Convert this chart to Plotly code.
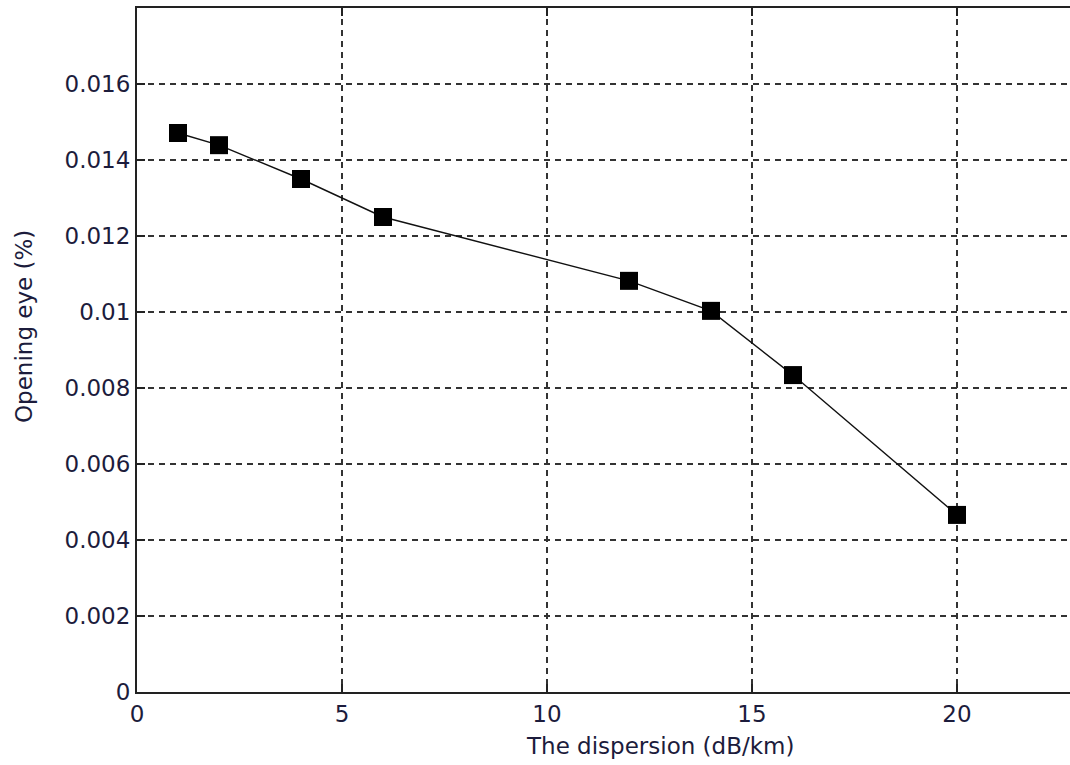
import plotly.graph_objects as go

dispersion = [1, 2, 4, 6, 12, 14, 16, 20]
opening_eye = [0.01471, 0.01439, 0.01350, 0.01250, 0.01082, 0.01003, 0.00834, 0.00466]

x_ticks = [0, 5, 10, 15, 20]
x_tick_labels = ["0", "5", "10", "15", "20"]
y_ticks = [0, 0.002, 0.004, 0.006, 0.008, 0.010, 0.012, 0.014, 0.016]
y_tick_labels = ["0", "0.002", "0.004", "0.006", "0.008", "0.01", "0.012", "0.014", "0.016"]

x_title = "The dispersion (dB/km)"
y_title = "Opening eye (%)"

fig = go.Figure()
fig.add_trace(go.Scatter(
    x=dispersion, y=opening_eye, mode="lines+markers",
    line=dict(color="#111111", width=1.4),
    marker=dict(symbol="square", size=18, color="#000000",
                line=dict(color="#000000", width=0)),
    showlegend=False,
))

font_family = "DejaVu Sans, Liberation Sans, Arial, sans-serif"
txt_color = "#1c1c3c"
fsize = 23

fig_w, fig_h = 1070, 765
m_l, m_t, m_b = 137, 8, 73
plot_w = fig_w - m_l
plot_h = fig_h - m_t - m_b
x_max = plot_w / 41.0

fig.update_layout(
    width=fig_w, height=fig_h,
    margin=dict(l=m_l, r=0, t=m_t, b=m_b),
    paper_bgcolor="white", plot_bgcolor="white",
    font=dict(family=font_family, size=fsize, color=txt_color),
    xaxis=dict(
        range=[0, x_max], tickvals=x_ticks, ticktext=x_tick_labels,
        showline=True, linecolor="#222222", linewidth=2, mirror="ticks",
        ticks="inside", ticklen=8, tickcolor="#222222", tickwidth=2,
        showgrid=True, gridcolor="#333333", gridwidth=1.5, griddash="6px,5px",
        zeroline=False,
        tickfont=dict(size=fsize, color=txt_color),
    ),
    yaxis=dict(
        range=[0, 0.018], tickvals=y_ticks, ticktext=y_tick_labels,
        showline=True, linecolor="#222222", linewidth=2, mirror=False,
        ticks="inside", ticklen=8, tickcolor="#222222", tickwidth=2,
        showgrid=True, gridcolor="#333333", gridwidth=1.5, griddash="6px,5px",
        zeroline=False,
        tickfont=dict(size=fsize, color=txt_color),
    ),
    annotations=[
        dict(text=x_title, xref="paper", yref="paper", x=(660 - m_l) / plot_w, y=0,
             xanchor="center", yanchor="middle", yshift=-54, showarrow=False,
             font=dict(size=fsize, color=txt_color)),
        dict(text=y_title, xref="paper", yref="paper", x=0, y=(692 - 327) / plot_h,
             xanchor="center", yanchor="middle", xshift=24 - m_l, textangle=-90,
             showarrow=False, font=dict(size=fsize, color=txt_color)),
    ],
)

fig.write_html(
    "out.html",
    config={"displayModeBar": False},
    post_script="document.body.style.margin='0';document.body.style.overflow='hidden';",
)
